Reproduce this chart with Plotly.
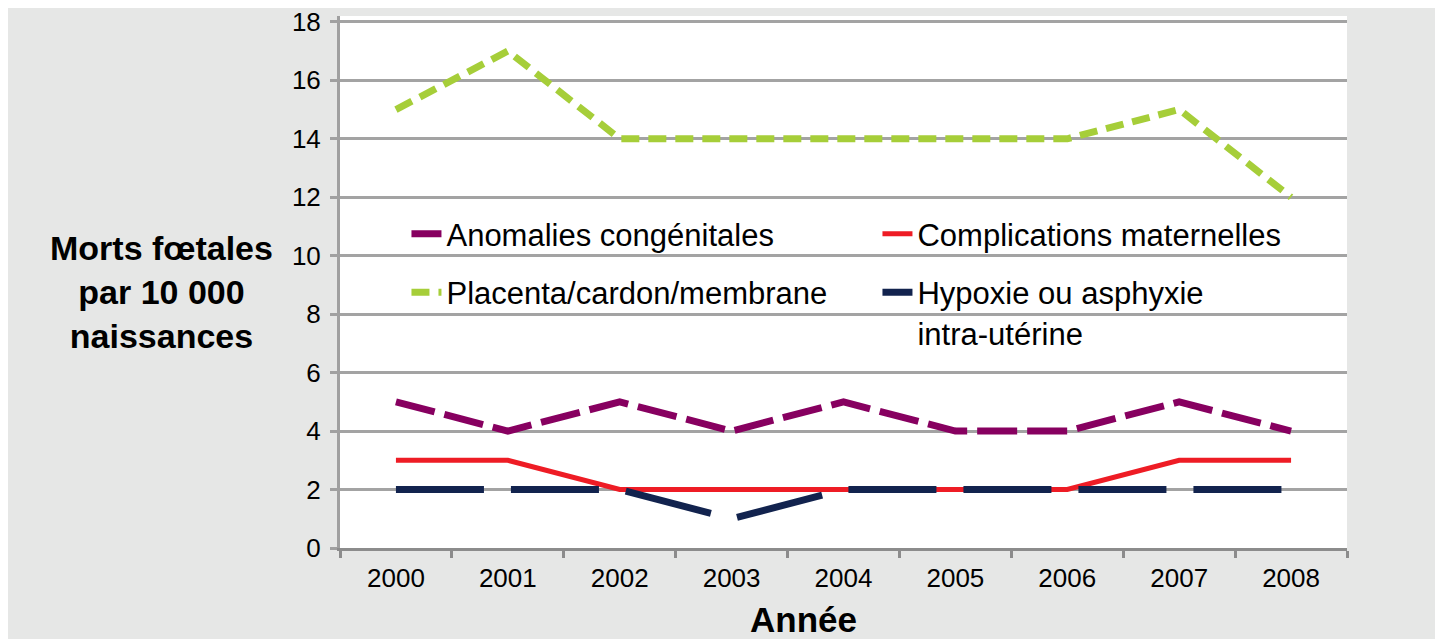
import plotly.graph_objects as go

years = ["2000", "2001", "2002", "2003", "2004", "2005", "2006", "2007", "2008"]
anomalies = [5, 4, 5, 4, 5, 4, 4, 5, 4]
complications = [3, 3, 2, 2, 2, 2, 2, 3, 3]
placenta = [15, 17, 14, 14, 14, 14, 14, 15, 12]
hypoxie = [2, 2, 2, 1, 2, 2, 2, 2, 2]
y_ticks = [0, 2, 4, 6, 8, 10, 12, 14, 16, 18]

FONT = "Liberation Sans, Arial, sans-serif"

fig = go.Figure()
fig.add_trace(go.Scatter(x=years, y=anomalies, mode="lines", name="Anomalies congénitales",
                         line=dict(color="#870060", width=7, dash="40px,10px"), legend="legend"))
fig.add_trace(go.Scatter(x=years, y=complications, mode="lines", name="Complications maternelles",
                         line=dict(color="#ee1c25", width=5), legend="legend"))
fig.add_trace(go.Scatter(x=years, y=placenta, mode="lines", name="Placenta/cardon/membrane",
                         line=dict(color="#a6ce39", width=7, dash="18px,9px"), legend="legend2"))
fig.add_trace(go.Scatter(x=years, y=hypoxie, mode="lines", name="Hypoxie ou asphyxie<br>intra-utérine",
                         line=dict(color="#12234e", width=7, dash="88px,27px"), legend="legend2"))

leg_common = dict(orientation="h", xanchor="left", yanchor="top", bgcolor="rgba(0,0,0,0)",
                  font=dict(family=FONT, size=31, color="#000000"), entrywidthmode="pixels",
                  entrywidth=426, valign="top", itemclick=False, itemdoubleclick=False)

# plot area: bottom (0) at 540 px in figure, value 18 at ~14 px in figure
H = 532
fig.update_layout(
    width=1435, height=631,
    margin=dict(l=332, r=96, t=631 - 91 - H, b=91, autoexpand=False),
    paper_bgcolor="#e6e7e6",
    plot_bgcolor="#ffffff",
    showlegend=True,
    legend=dict(x=0.066, y=0.641, **leg_common),
    legend2=dict(x=0.066, y=0.531, **leg_common),
    xaxis=dict(
        type="category", range=[-0.5, 8.5], tickson="boundaries",
        ticks="outside", ticklen=7, tickwidth=3, tickcolor="#8c8c8c",
        showgrid=False, showline=True, linecolor="#8c8c8c", linewidth=3,
        tickfont=dict(family=FONT, size=26, color="#000000"),
        ticklabelstandoff=5, automargin=False,
    ),
    yaxis=dict(
        range=[0, 18.2], tickvals=y_ticks,
        ticks="outside", ticklen=7, tickwidth=3, tickcolor="#a0a0a0",
        showgrid=True, gridcolor="#a3a3a3", gridwidth=3,
        showline=True, linecolor="#a0a0a0", linewidth=3, zeroline=False,
        tickfont=dict(family=FONT, size=26, color="#000000"),
        ticklabelstandoff=4, automargin=False, ticklabeloverflow="allow",
    ),
    annotations=[
        dict(text="<b>Morts fœtales<br>par 10 000<br>naissances</b>",
             xref="paper", yref="paper", x=-0.177, y=0.482, xanchor="center", yanchor="middle",
             showarrow=False, align="center",
             font=dict(family=FONT, size=34, color="#000000")),
        dict(text="<b>Année</b>",
             xref="paper", yref="paper", x=0.46, y=-0.134, xanchor="center", yanchor="middle",
             showarrow=False, font=dict(family=FONT, size=35, color="#000000")),
    ],
)

fig.write_html("out.html")
